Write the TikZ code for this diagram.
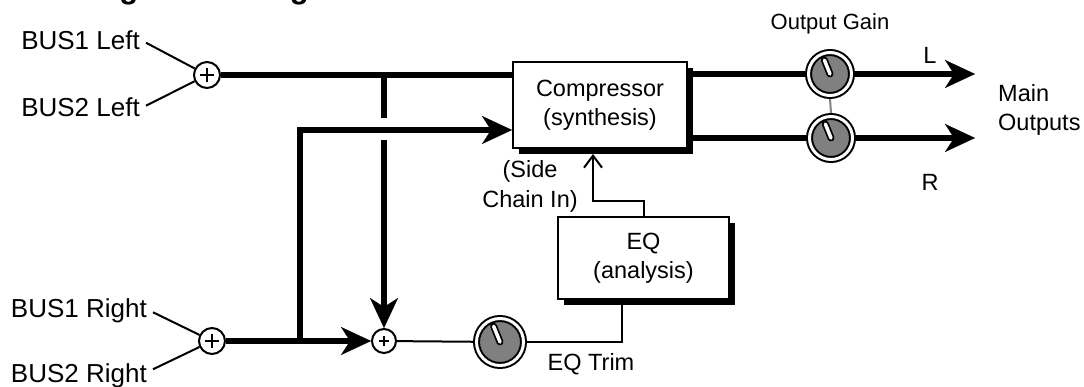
\documentclass[tikz,border=0pt]{standalone}
\usepackage{fontspec}
\setmainfont{Liberation Sans}
\usetikzlibrary{arrows.meta,shadows,calc}
\definecolor{knobgray}{RGB}{128,128,128}
\begin{document}
\begin{tikzpicture}[x=1pt,y=-1pt,
  every node/.style={font=\fontsize{23.5}{27}\selectfont, inner sep=0pt},
  buslabel/.style={anchor=base east, font=\fontsize{26}{30}\selectfont},
  thickline/.style={line width=6pt},
  thinline/.style={line width=2pt},
  bigarrow/.style={-{Stealth[length=30pt,width=28pt,inset=9pt,line width=0.1pt]}},
  smallarrow/.style={-{Straight Barb[length=12pt,width=18pt]}},
  sumnode/.style n args={2}{circle, draw, line width=2pt, fill=white, minimum size=#1, outer sep=1pt,
    path picture={
      \draw[line width=2pt] ([xshift=-#2]path picture bounding box.center) -- ([xshift=#2]path picture bounding box.center);
      \draw[line width=2pt] ([yshift=-#2]path picture bounding box.center) -- ([yshift=#2]path picture bounding box.center);}},
  knob/.style n args={2}{circle, draw, line width=2pt, double=white, double distance=3pt, fill=knobgray,
    minimum size=#1, outer sep=3.5pt,
    path picture={
      \draw[line width=7pt, line cap=round] (path picture bounding box.center) -- ++(112:#2);
      \draw[white, line width=3.5pt, line cap=round] (path picture bounding box.center) -- ++(112:#2);}},
  boxstyle/.style={draw, line width=2pt, fill=white, align=center,
    drop shadow={shadow xshift=6pt, shadow yshift=-6pt, fill=black, opacity=1}},
]
\useasboundingbox (0,0) rectangle (1084,387);

% title (cut at top edge)
\node[anchor=base west, font=\fontsize{31}{31}\bfseries\selectfont] (title) at (21,-1) {SSL Signal Routing};

% input labels
\node[buslabel] (b1l) at (140,50) {BUS1 Left};
\node[buslabel] (b2l) at (140,117) {BUS2 Left};
\node[buslabel] (b1r) at (147,317) {BUS1 Right};
\node[buslabel] (b2r) at (147,382) {BUS2 Right};

% summing nodes
\node[sumnode={26pt}{7pt}] (sumL) at (207,75) {};
\node[sumnode={26pt}{7pt}] (sumR) at (212,341) {};
\node[sumnode={24pt}{5pt}] (sumM) at (384,341) {};

% boxes
\node[boxstyle, minimum width=174pt, minimum height=86pt, font=\fontsize{23.5}{29}\selectfont] (cmp) at (600,105) {Compressor\\(synthesis)};
\node[boxstyle, minimum width=171pt, minimum height=82pt, font=\fontsize{23.5}{29}\selectfont] (eq) at (643.5,258) {EQ\\(analysis)};

% knobs
\node[knob={43pt}{15pt}] (knobL) at (830,74) {};
\node[knob={43pt}{15pt}] (knobR) at (831,138) {};
\node[knob={47pt}{17pt}] (knobT) at (500,342) {};

% labels
\node[anchor=base, font=\fontsize{22}{26}\selectfont] (og) at (830,30) {Output Gain};
\node[anchor=base] (lL) at (930,64) {L};
\node[anchor=base] (lR) at (930,191) {R};
\node[anchor=west, align=left, font=\fontsize{23.5}{29}\selectfont] (mo) at (998,110) {Main\\Outputs};
\node[align=center, font=\fontsize{23.5}{30}\selectfont] (sc) at (530,186) {(Side\\Chain In)};
\node[anchor=base] (eqt) at (591,370) {EQ Trim};

% coordinates
\coordinate (tapL) at (384,75);
\coordinate (gapTop) at (384,118);
\coordinate (gapBot) at (384,140);
\coordinate (tapR) at (300,341);
\coordinate (crn) at (300,130);
\coordinate (outL) at (975,74);
\coordinate (outR) at (975,138);
\coordinate (eqc) at (622,342);
\coordinate (scA) at (643.5,201);
\coordinate (scB) at (593,201);
\coordinate (scTop) at (593,154);

% input connectors
\draw[thinline] ([xshift=6pt,yshift=-2pt]b1l.east) -- (sumL);
\draw[thinline] ([xshift=6pt,yshift=2pt]b2l.east) -- (sumL);
\draw[thinline] ([xshift=6pt,yshift=-2pt]b1r.east) -- (sumR);
\draw[thinline] ([xshift=6pt,yshift=6pt]b2r.east) -- (sumR);

% main thick lines
\draw[thickline] (sumL) -- (cmp.west |- sumL);
\draw[thickline] (tapL) -- (gapTop);
\draw[thickline, bigarrow] (gapBot) -- (sumM.north);
\draw[thickline, bigarrow] (sumR) -- (sumM.west);
\draw[thickline, bigarrow] (tapR) -- (crn) -- (cmp.west |- crn);

% outputs
\draw[thickline] (cmp.east |- knobL) -- (knobL);
\draw[thickline, bigarrow] (knobL) -- (outL);
\draw[thickline] (cmp.east |- knobR) -- (knobR);
\draw[thickline, bigarrow] (knobR) -- (outR);
\draw[thinline, gray] (knobL.south) -- (knobR.north);

% side chain path
\draw[thinline] (sumM) -- (knobT);
\draw[thinline] (knobT) -- (eqc) -- (eqc |- eq.south);
\draw[thinline, smallarrow] (eq.north) -- (scA) -- (scB) -- (scTop);

\end{tikzpicture}
\end{document}
